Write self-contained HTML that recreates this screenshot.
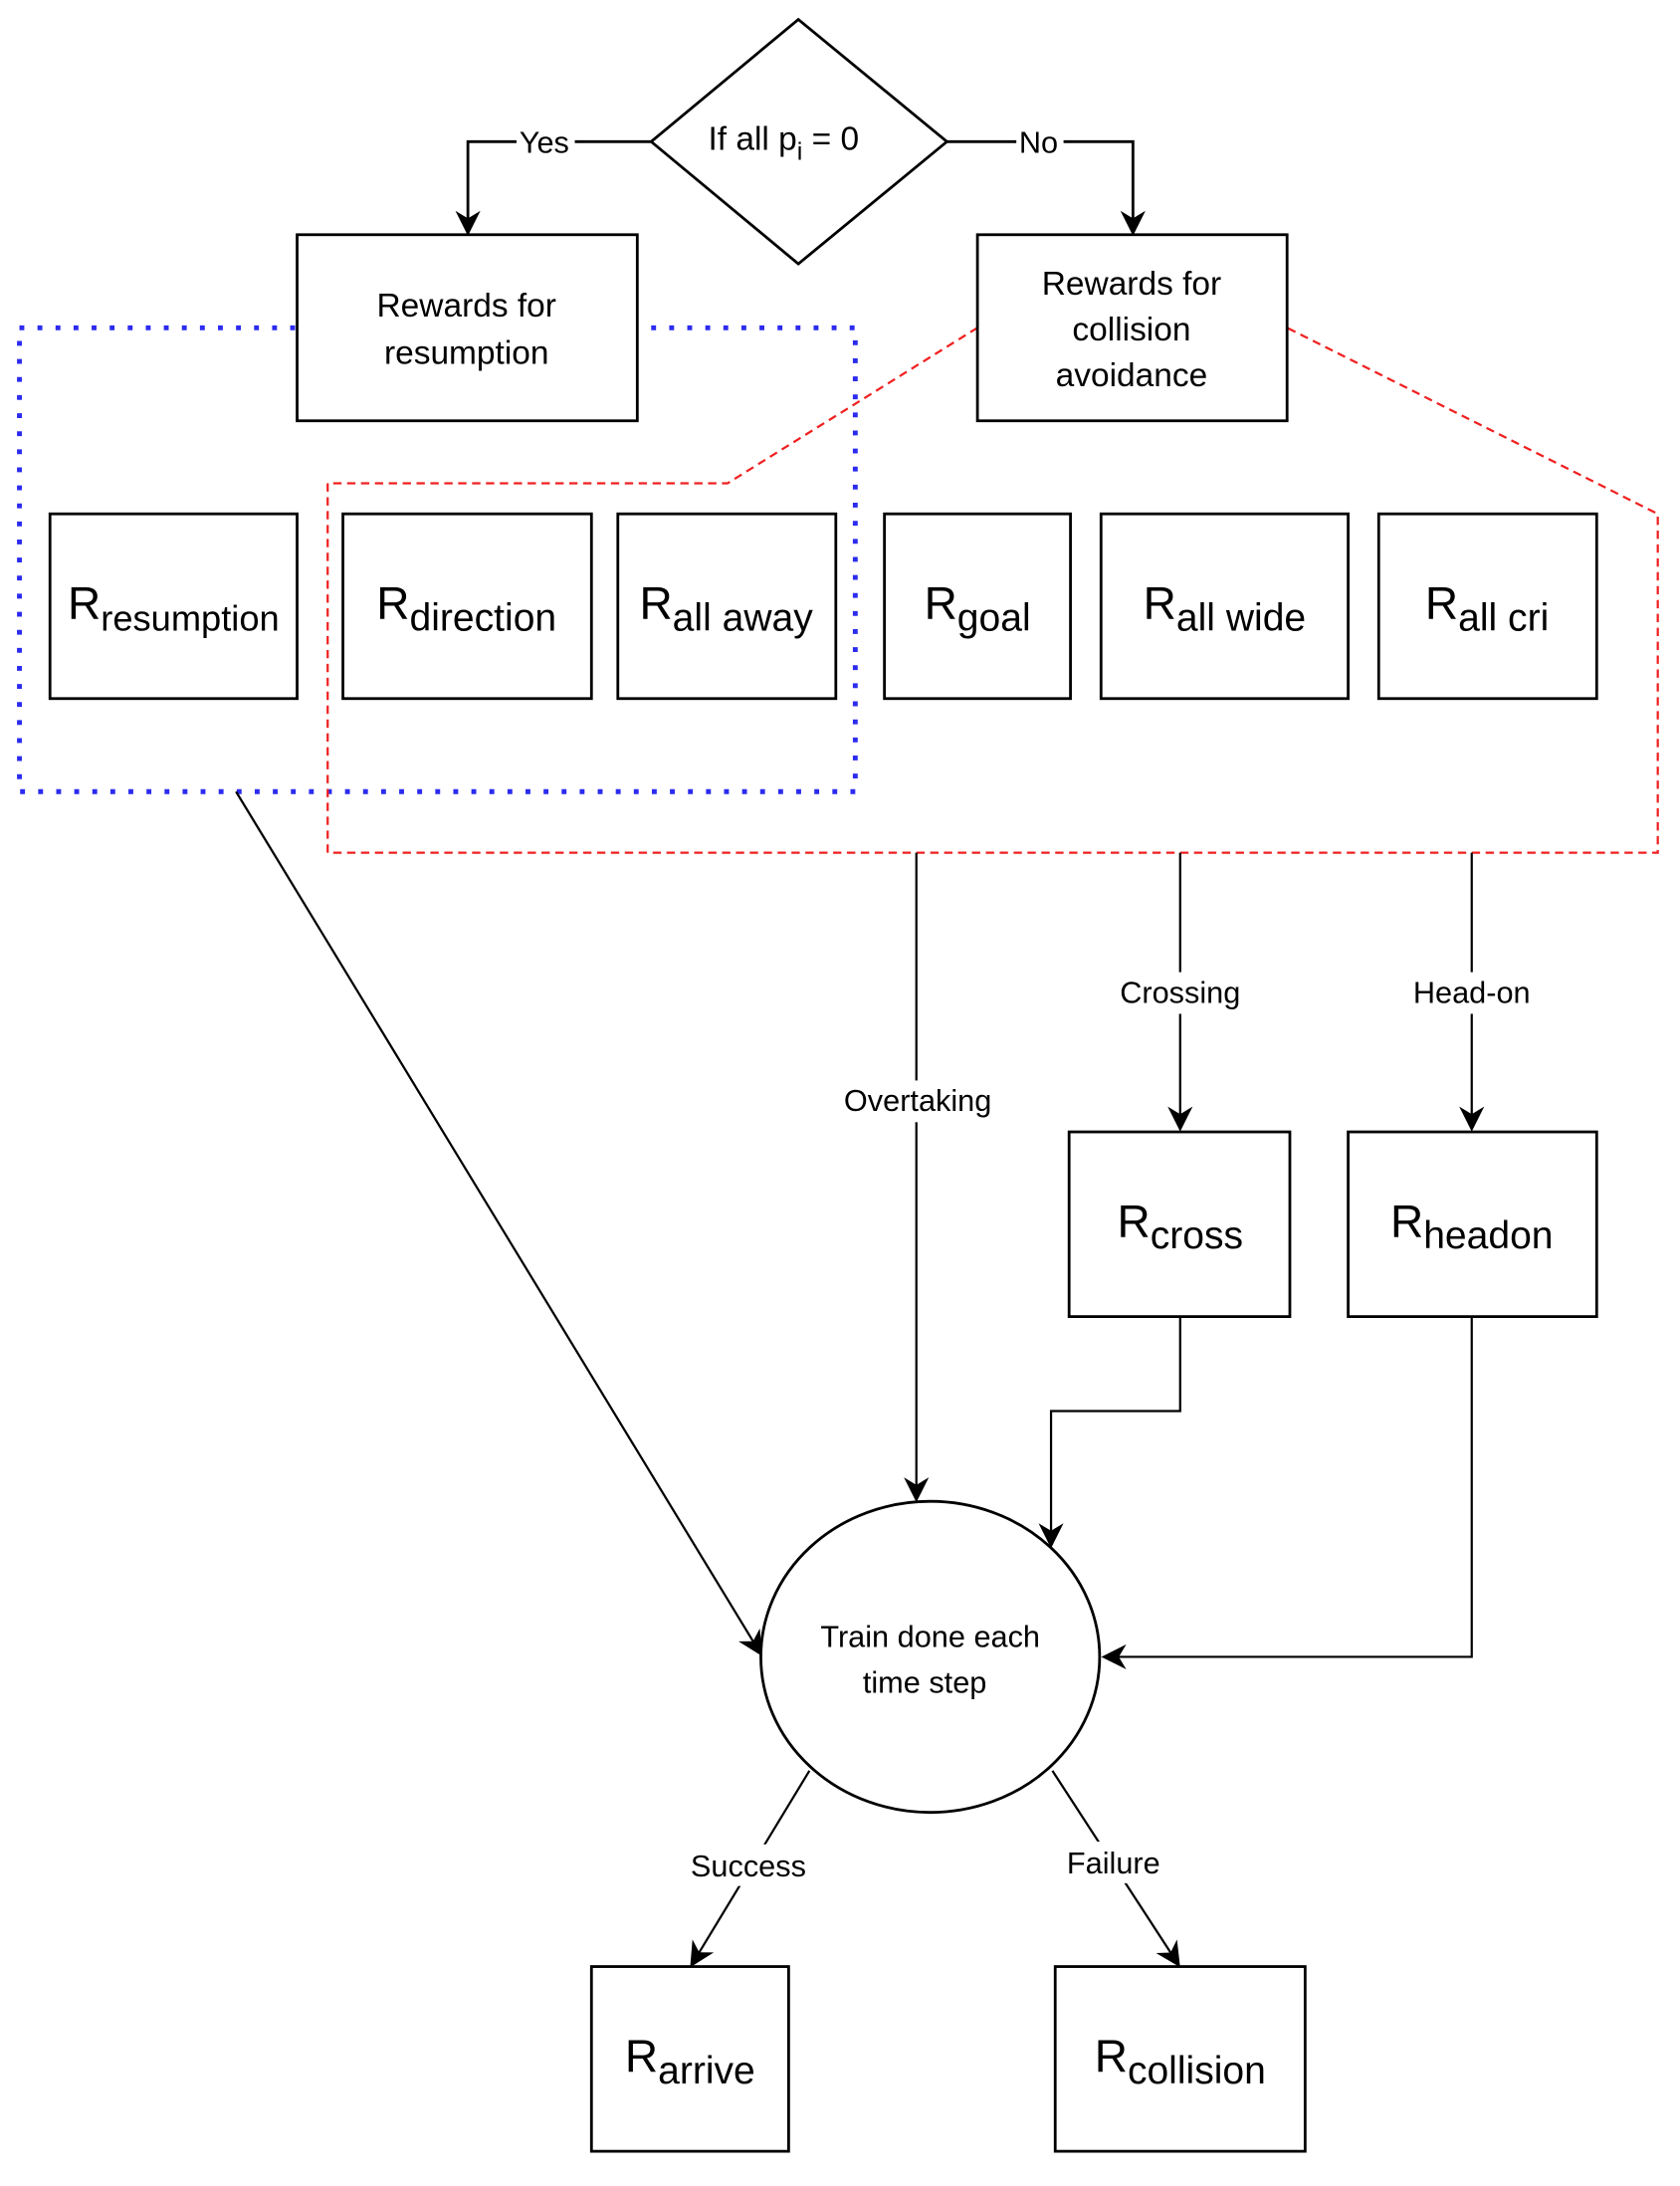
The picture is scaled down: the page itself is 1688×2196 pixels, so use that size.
<!DOCTYPE html>
<html><head><style>html,body{margin:0;padding:0;background:#fff}svg{display:block}</style></head>
<body>
<svg width="1688" height="2196" viewBox="0 0 1210 1574" preserveAspectRatio="none" xmlns="http://www.w3.org/2000/svg" font-family="Liberation Sans, Arial, sans-serif">
<defs>
<marker id="b" viewBox="0 0 10 10" refX="9" refY="5" markerWidth="18" markerHeight="18" orient="auto" markerUnits="userSpaceOnUse"><path d="M0,0 L10,5 L0,10 L3,5 z" fill="#000"/></marker></defs>
<rect x="14" y="236" width="602" height="334" fill="none" stroke="#2b2bf0" stroke-width="3.5" stroke-dasharray="3.5,9.5"/>
<polyline points="704,236 524,348 236,348 236,614 1194,614 1194,370 927,236" fill="none" stroke="#f02020" stroke-width="1.6" stroke-dasharray="6,4"/>
<g fill="#fff" stroke="#000" stroke-width="2">
<polygon points="575,14 682,102 575,190 469,102"/>
<rect x="214" y="169" width="245" height="134"/>
<rect x="704" y="169" width="223" height="134"/>
<rect x="36" y="370" width="178" height="133"/>
<rect x="247" y="370" width="179" height="133"/>
<rect x="445" y="370" width="157" height="133"/>
<rect x="637" y="370" width="134" height="133"/>
<rect x="793" y="370" width="178" height="133"/>
<rect x="993" y="370" width="157" height="133"/>
<rect x="770" y="815" width="159" height="133"/>
<rect x="971" y="815" width="179" height="133"/>
<rect x="426" y="1416" width="142" height="133"/>
<rect x="760" y="1416" width="180" height="133"/>
<ellipse cx="670" cy="1193" rx="122" ry="112"/>
</g>
<g fill="none" stroke="#000" stroke-width="2">
<polyline points="469,102 337,102 337,168" marker-end="url(#b)"/>
<polyline points="682,102 816,102 816,168" marker-end="url(#b)"/>
</g>
<g fill="none" stroke="#000" stroke-width="1.6">
<line x1="170" y1="570" x2="548" y2="1191" marker-end="url(#b)"/>
<line x1="660" y1="614" x2="660" y2="1080" marker-end="url(#b)"/>
<line x1="850" y1="614" x2="850" y2="813" marker-end="url(#b)"/>
<line x1="1060" y1="614" x2="1060" y2="813" marker-end="url(#b)"/>
<polyline points="850,948 850,1016 757,1016 757,1113" marker-end="url(#b)"/>
<polyline points="1060,948 1060,1193 795,1193" marker-end="url(#b)"/>
<line x1="583" y1="1275" x2="498" y2="1415" marker-end="url(#b)"/>
<line x1="758" y1="1275" x2="849" y2="1415" marker-end="url(#b)"/>
</g>
<g font-size="22" text-anchor="middle" fill="#000">
<rect x="372" y="90" width="42" height="24" fill="#fff"/><text x="392" y="110">Yes</text>
<rect x="732" y="90" width="34" height="24" fill="#fff"/><text x="748" y="110">No</text>
<text x="510" y="108" text-anchor="start" font-size="24">If all p<tspan font-size="18" dy="7">i</tspan><tspan dy="-7"> = 0</tspan></text>
<text x="336" y="228" font-size="24">Rewards for</text><text x="336" y="262" font-size="24">resumption</text>
<text x="815" y="212" font-size="24">Rewards for</text><text x="815" y="245" font-size="24">collision</text><text x="815" y="278" font-size="24">avoidance</text>
<rect x="794" y="700" width="112" height="30" fill="#fff"/><text x="850" y="722">Crossing</text>
<rect x="1005" y="700" width="110" height="30" fill="#fff"/><text x="1060" y="722">Head-on</text>
<rect x="596" y="778" width="130" height="30" fill="#fff"/><text x="661" y="800">Overtaking</text>
<text x="670" y="1186">Train done each</text><text x="666" y="1219">time step</text>
<rect x="488" y="1328" width="102" height="30" fill="#fff"/><text x="539" y="1351">Success</text>
<rect x="760" y="1326" width="84" height="30" fill="#fff"/><text x="802" y="1349">Failure</text>
</g>
<g font-size="33" text-anchor="middle" fill="#000">
<text x="125" y="446">R<tspan font-size="26" dy="8">resumption</tspan></text>
<text x="336" y="446">R<tspan font-size="28" dy="8">direction</tspan></text>
<text x="523" y="446">R<tspan font-size="28" dy="8">all away</tspan></text>
<text x="704" y="446">R<tspan font-size="28" dy="8">goal</tspan></text>
<text x="882" y="446">R<tspan font-size="28" dy="8">all wide</tspan></text>
<text x="1071" y="446">R<tspan font-size="28" dy="8">all cri</tspan></text>
<text x="850" y="891">R<tspan font-size="28" dy="8">cross</tspan></text>
<text x="1060" y="891">R<tspan font-size="28" dy="8">headon</tspan></text>
<text x="497" y="1492">R<tspan font-size="28" dy="8">arrive</tspan></text>
<text x="850" y="1492">R<tspan font-size="28" dy="8">collision</tspan></text>
</g>
</svg>
</body></html>
